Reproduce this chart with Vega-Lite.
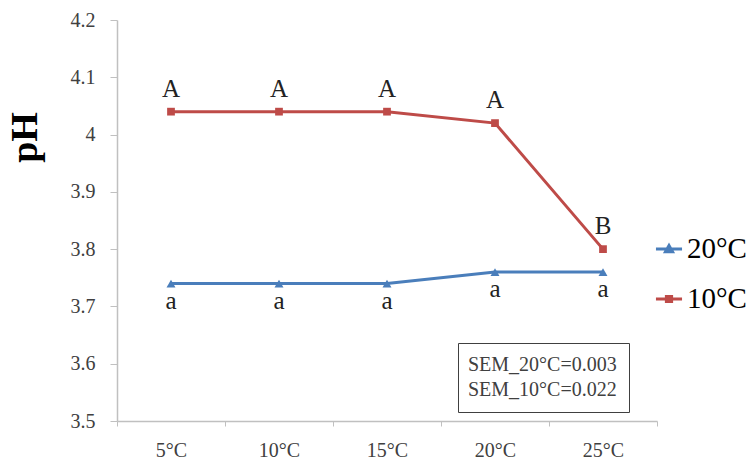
{
  "$schema": "https://vega.github.io/schema/vega-lite/v6.json",
  "width": 540,
  "height": 401,
  "autosize": "none",
  "padding": {"left": 117, "top": 20, "right": 95, "bottom": 45},
  "background": "white",
  "config": {
    "view": {"stroke": null},
    "font": "Liberation Serif",
    "axis": {"labelFont": "Liberation Serif", "labelFontSize": 20, "labelColor": "#404040", "grid": false,
             "domainColor": "#c0c0c0", "domainWidth": 1.5, "tickColor": "#c0c0c0"}
  },
  "datasets": {
    "ph": [
      {"temp": "5°C", "series": "20°C", "pH": 3.74, "letter": "a"},
      {"temp": "10°C", "series": "20°C", "pH": 3.74, "letter": "a"},
      {"temp": "15°C", "series": "20°C", "pH": 3.74, "letter": "a"},
      {"temp": "20°C", "series": "20°C", "pH": 3.76, "letter": "a"},
      {"temp": "25°C", "series": "20°C", "pH": 3.76, "letter": "a"},
      {"temp": "5°C", "series": "10°C", "pH": 4.04, "letter": "A"},
      {"temp": "10°C", "series": "10°C", "pH": 4.04, "letter": "A"},
      {"temp": "15°C", "series": "10°C", "pH": 4.04, "letter": "A"},
      {"temp": "20°C", "series": "10°C", "pH": 4.02, "letter": "A"},
      {"temp": "25°C", "series": "10°C", "pH": 3.80, "letter": "B"}
    ],
    "sem": [
      {"note": "SEM_20°C=0.003"},
      {"note": "SEM_10°C=0.022"}
    ]
  },
  "layer": [
    {
      "data": {"name": "ph"},
      "encoding": {
        "x": {
          "field": "temp", "type": "ordinal", "sort": null,
          "scale": {"paddingInner": 0, "paddingOuter": 0},
          "axis": {
            "title": null, "labelAngle": 0, "labelFontSize": 20, "labelColor": "#404040",
            "labelFont": "Liberation Serif", "labelPadding": 14,
            "tickSize": 5, "tickBand": "extent"
          }
        },
        "y": {
          "field": "pH", "type": "quantitative",
          "scale": {"domain": [3.5, 4.2], "zero": false, "nice": false},
          "axis": {
            "title": "pH", "titleFont": "Liberation Serif", "titleFontSize": 38, "titleFontWeight": "bold",
            "titleColor": "#000000", "titleAngle": -90, "titleX": -81, "titleY": 117, "titleAlign": "center", "titleBaseline": "alphabetic",
            "values": [3.5, 3.6, 3.7, 3.8, 3.9, 4.0, 4.1, 4.2],
            "labelExpr": "datum.value == 4 ? '4' : format(datum.value, '.1f')",
            "labelFontSize": 20, "labelColor": "#404040", "labelFont": "Liberation Serif", "labelPadding": 15,
            "tickSize": 7
          }
        }
      },
      "layer": [
        {
          "mark": {"type": "line", "strokeWidth": 3},
          "encoding": {
            "color": {
              "field": "series", "type": "nominal",
              "scale": {"domain": ["20°C", "10°C"], "range": ["#4a7ebb", "#be4b48"]},
              "legend": {
                "title": null, "orient": "none", "legendX": 537, "legendY": 214,
                "labelFont": "Liberation Serif", "labelFontSize": 29, "labelColor": "#000000",
                "symbolSize": 680, "symbolStrokeWidth": 3, "labelOffset": 3, "rowPadding": 20,
                "encode": {
                  "symbols": {
                    "update": {
                      "shape": {"signal": "datum.value === '20°C' ? 'M-1,0H1M-0.27,0.21L0,-0.27L0.27,0.21Z' : 'M-1,0H1M-0.2,-0.2H0.2V0.2H-0.2Z'"},
                      "fill": {"signal": "scale('color', datum.value)"},
                      "stroke": {"signal": "scale('color', datum.value)"},
                      "strokeWidth": {"value": 3},
                      "opacity": {"value": 1}
                    }
                  }
                }
              }
            }
          }
        },
        {
          "transform": [{"filter": "datum.series === '20°C'"}],
          "mark": {"type": "point", "filled": true, "opacity": 1, "shape": "triangle-up", "size": 80},
          "encoding": {"color": {"field": "series", "type": "nominal"}}
        },
        {
          "transform": [{"filter": "datum.series === '10°C'"}],
          "mark": {"type": "point", "filled": true, "opacity": 1, "shape": "square", "size": 60},
          "encoding": {"color": {"field": "series", "type": "nominal"}}
        },
        {
          "transform": [{"filter": "datum.series === '10°C'"}],
          "mark": {"type": "text", "fontSize": 25, "font": "Liberation Serif", "color": "#222222", "baseline": "alphabetic", "dy": -15},
          "encoding": {"text": {"field": "letter"}}
        },
        {
          "transform": [{"filter": "datum.series === '20°C'"}],
          "mark": {"type": "text", "fontSize": 25, "font": "Liberation Serif", "color": "#222222", "baseline": "alphabetic", "dy": 25},
          "encoding": {"text": {"field": "letter"}}
        }
      ]
    },
    {
      "data": {"name": "sem"},
      "mark": {"type": "point", "opacity": 0},
      "encoding": {
        "shape": {
          "field": "note", "type": "nominal", "sort": null,
          "legend": {
            "title": null, "orient": "none", "legendX": 341, "legendY": 323,
            "strokeColor": "#404040", "padding": 12, "labelOverlap": false,
            "labelFont": "Liberation Serif", "labelFontSize": 20, "labelColor": "#404040", "labelAlign": "left",
            "symbolSize": 1, "symbolStrokeWidth": 0, "symbolOpacity": 0, "symbolFillColor": "transparent",
            "labelOffset": -22, "rowPadding": 5
          }
        }
      }
    }
  ]
}
